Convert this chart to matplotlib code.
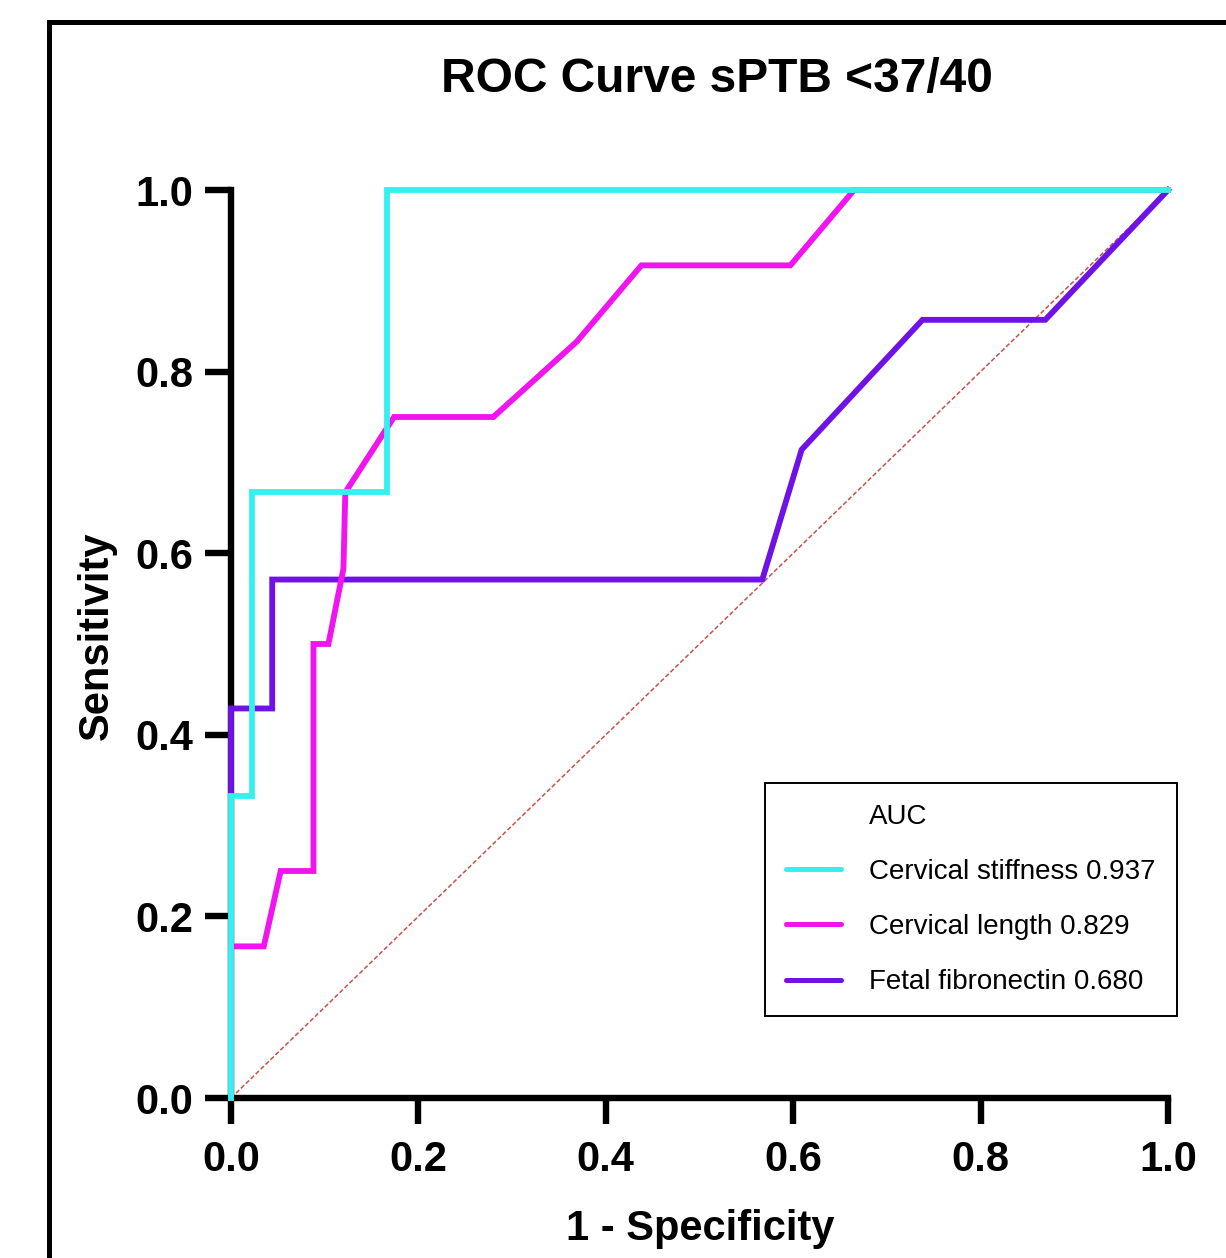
import matplotlib
matplotlib.use("Agg")
import matplotlib.pyplot as plt
from matplotlib.lines import Line2D

plt.rcParams['font.family'] = ['Liberation Sans', 'DejaVu Sans']

# ROC points (1 - specificity, sensitivity)
stiff_fpr = [0.0, 0.0, 0.022, 0.022, 0.167, 0.167, 1.0]
stiff_tpr = [0.0, 0.333, 0.333, 0.667, 0.667, 1.0, 1.0]

length_fpr = [0.0, 0.0, 0.035, 0.053, 0.088, 0.088, 0.104, 0.120, 0.122, 0.174,
              0.280, 0.369, 0.438, 0.597, 0.665, 1.0]
length_tpr = [0.0, 0.167, 0.167, 0.250, 0.250, 0.500, 0.500, 0.583, 0.667, 0.750,
              0.750, 0.833, 0.917, 0.917, 1.0, 1.0]

fib_fpr = [0.0, 0.0, 0.044, 0.044, 0.567, 0.609, 0.738, 0.869, 1.0]
fib_tpr = [0.0, 0.429, 0.429, 0.571, 0.571, 0.714, 0.857, 0.857, 1.0]

chance = [0.0, 1.0]

labels = ["Cervical stiffness 0.937", "Cervical length 0.829", "Fetal fibronectin 0.680"]
colors = ["#36F0F0", "#F014EE", "#6E12E6"]

ticks = [0.0, 0.2, 0.4, 0.6, 0.8, 1.0]
tick_labels = ["0.0", "0.2", "0.4", "0.6", "0.8", "1.0"]

W, H = 1226, 1258
fig = plt.figure(figsize=(W / 100, H / 100), dpi=100)
fig.patch.set_facecolor("white")

# outer frame (only top and left edges are visible in the picture)
fx, fy = 48.5 / W, 1 - 21.5 / H
fig.add_artist(Line2D([fx, fx, 1.02], [-0.02, fy, fy], color="black", lw=3.6,
                      solid_joinstyle="miter", transform=fig.transFigure))

ax = fig.add_axes([231 / W, (H - 1098) / H, 937 / W, 908 / H])
ax.set_xlim(0, 1)
ax.set_ylim(0, 1)

ax.plot(chance, chance, color="#C8504A", lw=1.1, ls=(0, (3, 1.5)), zorder=2)
h_fib, = ax.plot(fib_fpr, fib_tpr, color=colors[2], lw=4.2, zorder=3, clip_on=False,
                 label=labels[2], solid_joinstyle="miter")
h_len, = ax.plot(length_fpr, length_tpr, color=colors[1], lw=4.2, zorder=3.1, clip_on=False,
                 label=labels[1], solid_joinstyle="miter")
h_stf, = ax.plot(stiff_fpr, stiff_tpr, color=colors[0], lw=4.2, zorder=3.2, clip_on=False,
                 label=labels[0], solid_joinstyle="miter")

for s in ["top", "right"]:
    ax.spines[s].set_visible(False)
for s in ["left", "bottom"]:
    ax.spines[s].set_linewidth(4.6)
    ax.spines[s].set_capstyle("projecting")

ax.set_xticks(ticks)
ax.set_xticklabels(tick_labels)
ax.set_yticks(ticks)
ax.set_yticklabels(tick_labels)
ax.tick_params(axis="both", direction="out", length=19, width=4.6, labelsize=30)
ax.tick_params(axis="x", pad=11)
ax.tick_params(axis="y", pad=8)
for lbl in ax.get_xticklabels() + ax.get_yticklabels():
    lbl.set_fontweight("bold")

fig.text(717 / W, 1 - 92 / H, "ROC Curve sPTB <37/40", ha="center", va="baseline",
         fontsize=34.5, fontweight="bold")
fig.text(700 / W, 1 - 1240 / H, "1 - Specificity", ha="center", va="baseline",
         fontsize=30, fontweight="bold")
fig.text(97 / W, 1 - 636 / H, "Sensitivity", ha="center", va="center", rotation=90,
         fontsize=30, fontweight="bold")

auc_title = Line2D([], [], color="none", label="AUC")
leg = ax.legend(handles=[auc_title, h_stf, h_len, h_fib], loc="upper left",
                bbox_to_anchor=((765 - 231) / 937, (1098 - 783) / 908),
                borderaxespad=0, fontsize=20, frameon=True, fancybox=False,
                framealpha=1, edgecolor="black", handlelength=2.0,
                handletextpad=1.0, labelspacing=1.05, borderpad=0.75)
leg.get_frame().set_linewidth(1.4)
for line in leg.get_lines():
    line.set_linewidth(3.6)
    line.set_solid_capstyle("round")

fig.savefig("out.png", dpi=100)
